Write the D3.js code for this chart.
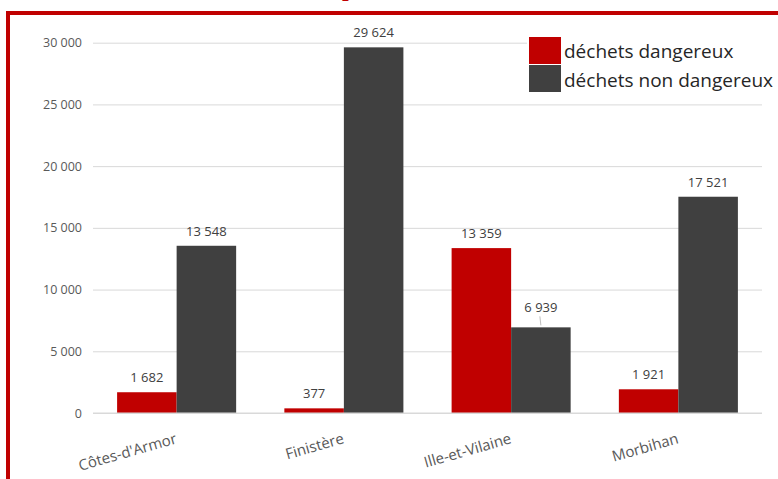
<!DOCTYPE html>
<html>
<head>
<meta charset="utf-8">
<script src="https://cdn.jsdelivr.net/npm/d3@7"></script>
<style>
    body { margin: 0; background: #fff; }
    svg { display: block; font-family: "Open Sans", sans-serif; }
</style>
</head>
<body>
<div id="chart"></div>
<script>
const width = 778;
const height = 479;

// data
const categories = ["Côtes-d'Armor", "Finistère", "Ille-et-Vilaine", "Morbihan"];
const seriesNames = ["déchets dangereux", "déchets non dangereux"];
const dangereux = [1682, 377, 13359, 1921];
const nonDangereux = [13548, 29624, 6939, 17521];
const yTicks = [0, 5000, 10000, 15000, 20000, 25000, 30000];

const colors = ["#c00000", "#404040"];
const fmt = v => d3.format(",")(v).replace(/,/g, " ");

const rows = categories.map((c, i) => ({
    cat: c,
    values: [dangereux[i], nonDangereux[i]]
}));

const svg = d3.select("#chart")
    .append("svg")
    .attr("width", width)
    .attr("height", height);

// title, mostly outside the frame (cut off like in the reference)
svg.append("text")
    .attr("x", 256)
    .attr("y", -4)
    .attr("fill", "#c00000")
    .style("font-family", "'Liberation Serif', serif")
    .style("font-weight", "bold")
    .style("font-size", "24px")
    .text("Déchets produits");

// red frame
svg.append("line")
    .attr("x1", 6).attr("x2", width)
    .attr("y1", 13).attr("y2", 13)
    .attr("stroke", "#c00000")
    .attr("stroke-width", 4);
svg.append("line")
    .attr("x1", 8).attr("x2", 8)
    .attr("y1", 11).attr("y2", height)
    .attr("stroke", "#c00000")
    .attr("stroke-width", 4);

const x0 = d3.scaleBand()
    .domain(categories)
    .range([93, 762])
    .padding(0);

const x1 = d3.scaleBand()
    .domain([0, 1])
    .range([0, x0.bandwidth()])
    .paddingInner(0)
    .paddingOuter(0.405);

const y = d3.scaleLinear()
    .domain([0, 30000])
    .range([413, 42.7]);

// grid
const yAxis = svg.append("g")
    .attr("transform", "translate(93,0)")
    .call(d3.axisLeft(y)
        .tickValues(yTicks)
        .tickSize(-(762 - 93))
        .tickPadding(11)
        .tickFormat(fmt));

yAxis.select(".domain").remove();
yAxis.selectAll(".tick line")
    .attr("stroke", "#d9d9d9")
    .attr("stroke-width", 1);
yAxis.selectAll(".tick text")
    .attr("fill", "#595959")
    .style("font-size", "12.5px")
    .style("font-family", "'Open Sans', sans-serif");

// bars
const groups = svg.selectAll(".group")
    .data(rows)
    .enter()
    .append("g")
    .attr("class", "group")
    .attr("transform", d => "translate(" + x0(d.cat) + ",0)");

groups.selectAll("rect")
    .data(d => d.values.map((v, i) => ({ v: v, i: i, cat: d.cat })))
    .enter()
    .append("rect")
    .attr("x", d => x1(d.i))
    .attr("y", d => y(d.v))
    .attr("width", x1.bandwidth())
    .attr("height", d => y(0) - y(d.v))
    .attr("fill", d => colors[d.i]);

// value labels (Ille-et-Vilaine dark bar label is lifted with a leader line)
const lifted = d => d.cat === "Ille-et-Vilaine" && d.i === 1;

groups.selectAll(".val")
    .data(d => d.values.map((v, i) => ({ v: v, i: i, cat: d.cat })))
    .enter()
    .append("text")
    .attr("class", "val")
    .attr("x", d => x1(d.i) + x1.bandwidth() / 2)
    .attr("y", d => y(d.v) - (lifted(d) ? 15 : 10))
    .attr("text-anchor", "middle")
    .attr("fill", "#404040")
    .style("font-size", "13px")
    .text(d => fmt(d.v));

groups.selectAll(".leader")
    .data(d => d.values.map((v, i) => ({ v: v, i: i, cat: d.cat })).filter(lifted))
    .enter()
    .append("line")
    .attr("x1", d => x1(d.i) + x1.bandwidth() / 2 - 1)
    .attr("x2", d => x1(d.i) + x1.bandwidth() / 2)
    .attr("y1", d => y(d.v) - 11)
    .attr("y2", d => y(d.v) - 2)
    .attr("stroke", "#bfbfbf")
    .attr("stroke-width", 1);

// baseline
svg.append("line")
    .attr("x1", 93).attr("x2", 762)
    .attr("y1", y(0)).attr("y2", y(0))
    .attr("stroke", "#d9d9d9");

// category labels, rotated
svg.selectAll(".cat")
    .data(categories)
    .enter()
    .append("text")
    .attr("class", "cat")
    .attr("transform", d => "translate(" + (x0(d) + x0.bandwidth() / 2 + 1) + ",443) rotate(-16)")
    .attr("text-anchor", "end")
    .attr("fill", "#595959")
    .style("font-size", "15px")
    .text(d => d);

// legend
const legend = svg.append("g");
legend.append("rect")
    .attr("x", 527).attr("y", 34)
    .attr("width", 251).attr("height", 62)
    .attr("fill", "#fff");

legend.selectAll(".sw")
    .data(seriesNames)
    .enter()
    .append("rect")
    .attr("x", 529)
    .attr("y", (d, i) => 37 + i * 28)
    .attr("width", 32)
    .attr("height", 27)
    .attr("fill", (d, i) => colors[i]);

legend.selectAll(".lab")
    .data(seriesNames)
    .enter()
    .append("text")
    .attr("x", 564)
    .attr("y", (d, i) => 58 + i * 29)
    .attr("fill", "#262626")
    .style("font-size", "19px")
    .text(d => d);
</script>
</body>
</html>
